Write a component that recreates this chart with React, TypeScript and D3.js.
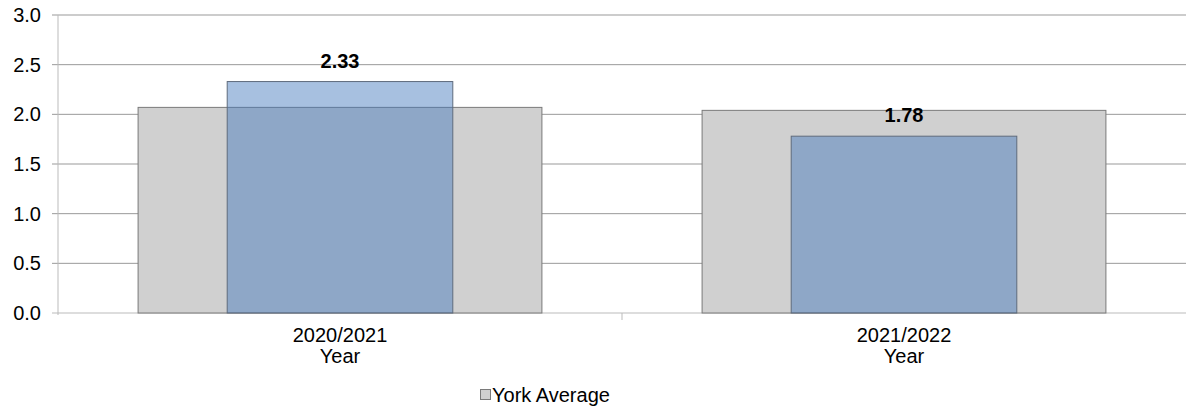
import React from "react";
import * as d3 from "d3";

const categories = ["2020/2021", "2021/2022"];
const yorkAverage = [2.07, 2.04];
const schoolValues = [2.33, 1.78];
const valueLabels = ["2.33", "1.78"];
const yTicks = [0, 0.5, 1.0, 1.5, 2.0, 2.5, 3.0];
const legendLabel = "York Average";
const axisSubLabel = "Year";

const W = 1187;
const H = 409;
const left = 58;
const right = 1186;
const top = 15;
const bottom = 313;

export default function App() {
  const x = d3.scaleBand<string>().domain(categories).range([left, right]).padding(0);
  const y = d3.scaleLinear().domain([0, 3]).range([bottom, top]);
  const bw = x.bandwidth();
  const grayW = bw * 0.716;
  const blueW = bw * 0.4;
  const font = "Liberation Sans, Arial, sans-serif";
  const fs = 20;

  return (
    <svg width={W} height={H} style={{ position: "absolute", left: 0, top: 0, background: "#fff" }} fontFamily={font}>
      {yTicks.map((t) => (
        <g key={t}>
          <line x1={left - 6} x2={right} y1={y(t)} y2={y(t)} stroke={t === 0 ? "#bbb" : "#999"} strokeWidth={1} />
          <text x={left - 17} y={y(t) + 7} textAnchor="end" fontSize={fs} fill="#000">
            {t.toFixed(1)}
          </text>
        </g>
      ))}
      <line x1={left} x2={left} y1={top} y2={bottom + 2} stroke="#bbb" strokeWidth={1} />
      {categories.slice(1).map((c) => (
        <line key={c} x1={x(c)!} x2={x(c)!} y1={bottom} y2={bottom + 7} stroke="#bbb" />
      ))}
      {categories.map((c, i) => {
        const cx = x(c)! + bw / 2;
        return (
          <g key={c}>
            <rect
              x={cx - grayW / 2}
              y={y(yorkAverage[i])}
              width={grayW}
              height={bottom - y(yorkAverage[i])}
              fill="#d0d0d0"
              stroke="#7a7a7a"
              strokeWidth={1}
            />
            <rect
              x={cx - blueW / 2}
              y={y(schoolValues[i])}
              width={blueW}
              height={bottom - y(schoolValues[i])}
              fill="rgba(68,121,189,0.47)"
              stroke="#5f6b7c"
              strokeWidth={1}
            />
            <text x={cx} y={y(schoolValues[i]) - 14} textAnchor="middle" fontSize={fs} fontWeight="bold" fill="#000">
              {valueLabels[i]}
            </text>
            <text x={cx} y={342} textAnchor="middle" fontSize={fs} fill="#000">
              {c}
            </text>
            <text x={cx} y={363} textAnchor="middle" fontSize={fs} fill="#000">
              {axisSubLabel}
            </text>
          </g>
        );
      })}
      <rect x={480.5} y={389.5} width={10} height={10} fill="#d0d0d0" stroke="#7a7a7a" />
      <text x={492} y={402} fontSize={fs} fill="#000">
        {legendLabel}
      </text>
    </svg>
  );
}
